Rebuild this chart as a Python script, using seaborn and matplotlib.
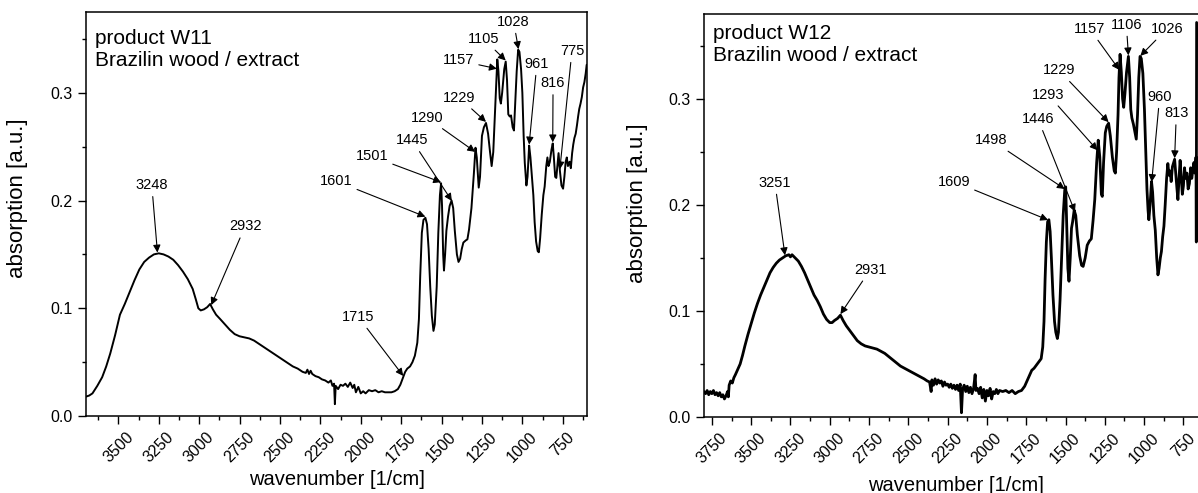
import numpy as np
import pandas as pd
import matplotlib
matplotlib.use("Agg")
import matplotlib.pyplot as plt
import seaborn as sns
from matplotlib.ticker import MultipleLocator, FormatStrFormatter

# ---------------- data: W11 spectrum ----------------
w11_wn = [3700, 3680, 3660, 3630, 3600, 3575, 3550, 3520, 3490, 3460, 3430, 3400, 3370, 3340,
          3310, 3280, 3250, 3220, 3190, 3160, 3130, 3100, 3070, 3040, 3020, 3005, 2990, 2970,
          2950, 2932, 2915, 2895, 2870, 2840, 2810, 2780, 2750, 2720, 2690, 2660, 2630, 2600,
          2570, 2540, 2510, 2480, 2450, 2420, 2390, 2360, 2340, 2330, 2320, 2310, 2300, 2280,
          2260, 2240, 2220, 2200, 2185, 2175, 2165, 2160, 2155, 2140, 2125, 2110, 2095, 2080,
          2065, 2050, 2040, 2030, 2015, 2000, 1985, 1970, 1950, 1930, 1910, 1890, 1870, 1850,
          1830, 1810, 1790, 1770, 1755, 1740, 1725, 1712, 1695, 1680, 1665, 1650, 1640, 1632,
          1622, 1612, 1600, 1590, 1580, 1570, 1560, 1550, 1542, 1530, 1520, 1510, 1503, 1497,
          1490, 1485, 1478, 1470, 1460, 1450, 1438, 1428, 1418, 1405, 1395, 1385, 1375, 1365,
          1350, 1340, 1330, 1315, 1300, 1290, 1282, 1270, 1262, 1250, 1238, 1225, 1212, 1200,
          1190, 1180, 1170, 1160, 1155, 1148, 1140, 1133, 1125, 1112, 1103, 1095, 1087, 1078,
          1070, 1060, 1052, 1044, 1035, 1026, 1018, 1008, 1000, 992, 985, 975, 968, 958, 950,
          942, 932, 924, 915, 905, 898, 890, 880, 870, 862, 852, 845, 838, 830, 820, 812, 805,
          797, 790, 783, 776, 768, 758, 748, 740, 732, 725, 718, 708, 700, 692, 685, 678, 670,
          662, 655, 648, 640, 632, 624, 616, 608, 602]
w11_abs = [0.018, 0.019, 0.021, 0.028, 0.036, 0.046, 0.058, 0.075, 0.094, 0.104, 0.115, 0.126,
           0.136, 0.143, 0.147, 0.150, 0.151, 0.150, 0.148, 0.145, 0.140, 0.134, 0.127, 0.118,
           0.108, 0.100, 0.098, 0.099, 0.101, 0.104, 0.099, 0.094, 0.090, 0.085, 0.080, 0.076,
           0.074, 0.073, 0.072, 0.070, 0.067, 0.064, 0.061, 0.058, 0.055, 0.052, 0.049, 0.046,
           0.044, 0.041, 0.040, 0.043, 0.039, 0.042, 0.039, 0.037, 0.036, 0.034, 0.033, 0.031,
           0.033, 0.028, 0.030, 0.011, 0.028, 0.025, 0.029, 0.028, 0.030, 0.027, 0.031, 0.026,
           0.029, 0.022, 0.027, 0.021, 0.023, 0.021, 0.024, 0.023, 0.024, 0.022, 0.023, 0.022,
           0.022, 0.022, 0.023, 0.025, 0.029, 0.035, 0.041, 0.044, 0.046, 0.050, 0.056, 0.068,
           0.090, 0.130, 0.170, 0.182, 0.184, 0.178, 0.155, 0.120, 0.093, 0.079, 0.085, 0.120,
           0.170, 0.205, 0.216, 0.195, 0.150, 0.135, 0.150, 0.172, 0.185, 0.195, 0.200, 0.193,
           0.172, 0.150, 0.143, 0.146, 0.155, 0.161, 0.163, 0.164, 0.173, 0.193, 0.225, 0.249,
           0.240, 0.212, 0.222, 0.260, 0.268, 0.272, 0.262, 0.245, 0.232, 0.245, 0.280, 0.315,
           0.331, 0.320, 0.295, 0.290, 0.300, 0.322, 0.329, 0.312, 0.280, 0.278, 0.279, 0.268,
           0.265, 0.290, 0.320, 0.340, 0.338, 0.322, 0.300, 0.260, 0.235, 0.214, 0.222, 0.251,
           0.240, 0.225, 0.205, 0.180, 0.162, 0.153, 0.152, 0.165, 0.187, 0.205, 0.213, 0.232,
           0.240, 0.232, 0.236, 0.247, 0.253, 0.240, 0.222, 0.221, 0.232, 0.244, 0.228, 0.214,
           0.211, 0.222, 0.236, 0.240, 0.232, 0.236, 0.230, 0.244, 0.252, 0.258, 0.262, 0.270,
           0.278, 0.285, 0.290, 0.296, 0.305, 0.310, 0.318, 0.326]

# ---------------- data: W12 spectrum ----------------
w12_wn = [3800, 3790, 3780, 3770, 3760, 3750, 3740, 3730, 3720, 3710, 3700, 3690, 3680, 3670,
          3660, 3650, 3645, 3640, 3630, 3620, 3610, 3600, 3585, 3570, 3555, 3540, 3520, 3500,
          3480, 3460, 3440, 3420, 3400, 3380, 3360, 3340, 3320, 3300, 3280, 3260, 3250, 3240,
          3220, 3200, 3180, 3160, 3140, 3120, 3100, 3080, 3060, 3040, 3020, 3000, 2985, 2970,
          2950, 2932, 2915, 2895, 2875, 2850, 2825, 2800, 2775, 2750, 2725, 2700, 2675, 2650,
          2625, 2600, 2575, 2550, 2525, 2500, 2475, 2450, 2425, 2400, 2380, 2365, 2355, 2350,
          2340, 2330, 2320, 2310, 2300, 2290, 2280, 2270, 2260, 2250, 2240, 2230, 2220, 2210,
          2200, 2190, 2180, 2170, 2162, 2155, 2145, 2135, 2125, 2115, 2105, 2095, 2085, 2075,
          2070, 2060, 2050, 2040, 2030, 2020, 2010, 2000, 1990, 1980, 1970, 1960, 1950, 1940,
          1930, 1920, 1900, 1880, 1860, 1840, 1820, 1800, 1780, 1760, 1745, 1730, 1715, 1700,
          1685, 1670, 1655, 1645, 1637, 1630, 1622, 1614, 1606, 1598, 1590, 1580, 1570, 1562,
          1552, 1545, 1535, 1525, 1515, 1505, 1499, 1492, 1485, 1478, 1470, 1462, 1455, 1445,
          1435, 1425, 1410, 1398, 1388, 1375, 1362, 1348, 1336, 1325, 1314, 1302, 1292, 1282,
          1272, 1266, 1258, 1247, 1238, 1226, 1215, 1202, 1190, 1183, 1175, 1166, 1160, 1153,
          1145, 1137, 1130, 1122, 1112, 1100, 1092, 1085, 1078, 1068, 1058, 1050, 1042, 1034,
          1026, 1018, 1008, 998, 990, 982, 975, 970, 962, 953, 946, 938, 929, 920, 912, 905,
          897, 890, 882, 874, 866, 857, 849, 842, 835, 828, 820, 812, 806, 798, 791, 785, 778,
          771, 764, 757, 750, 743, 736, 728, 720, 712, 704, 697, 690, 683, 676, 670, 668, 666]
w12_abs = [0.024, 0.022, 0.025, 0.021, 0.024, 0.022, 0.025, 0.021, 0.023, 0.020, 0.023, 0.019,
           0.021, 0.017, 0.020, 0.024, 0.019, 0.030, 0.034, 0.032, 0.037, 0.040, 0.045, 0.050,
           0.058, 0.067, 0.078, 0.088, 0.098, 0.107, 0.115, 0.122, 0.129, 0.136, 0.141, 0.145,
           0.148, 0.150, 0.152, 0.153, 0.151, 0.153, 0.150, 0.147, 0.142, 0.136, 0.129, 0.122,
           0.115, 0.110, 0.104, 0.097, 0.092, 0.089, 0.089, 0.091, 0.093, 0.096, 0.091, 0.086,
           0.082, 0.077, 0.072, 0.069, 0.067, 0.066, 0.065, 0.064, 0.062, 0.060, 0.057, 0.054,
           0.051, 0.048, 0.046, 0.044, 0.042, 0.040, 0.038, 0.036, 0.034, 0.033, 0.024, 0.035,
           0.030, 0.036, 0.031, 0.035, 0.032, 0.034, 0.029, 0.033, 0.030, 0.031, 0.028, 0.031,
           0.027, 0.030, 0.026, 0.030, 0.025, 0.031, 0.004, 0.026, 0.030, 0.024, 0.029, 0.023,
           0.028, 0.022, 0.027, 0.040, 0.025, 0.027, 0.022, 0.028, 0.018, 0.026, 0.015, 0.025,
           0.020, 0.027, 0.017, 0.024, 0.022, 0.026, 0.022, 0.025, 0.024, 0.025, 0.023, 0.025,
           0.022, 0.024, 0.025, 0.029, 0.034, 0.039, 0.044, 0.046, 0.049, 0.052, 0.055, 0.066,
           0.090, 0.130, 0.165, 0.184, 0.186, 0.175, 0.150, 0.115, 0.090, 0.080, 0.074, 0.080,
           0.110, 0.150, 0.190, 0.214, 0.217, 0.180, 0.140, 0.128, 0.150, 0.178, 0.184, 0.195,
           0.190, 0.172, 0.152, 0.143, 0.142, 0.150, 0.162, 0.166, 0.168, 0.185, 0.205, 0.240,
           0.261, 0.245, 0.210, 0.208, 0.240, 0.268, 0.274, 0.277, 0.265, 0.245, 0.232, 0.230,
           0.250, 0.285, 0.320, 0.342, 0.325, 0.300, 0.292, 0.305, 0.325, 0.340, 0.320, 0.290,
           0.282, 0.276, 0.268, 0.262, 0.285, 0.320, 0.340, 0.338, 0.324, 0.290, 0.252, 0.215,
           0.195, 0.186, 0.200, 0.222, 0.212, 0.190, 0.176, 0.150, 0.134, 0.140, 0.150, 0.156,
           0.170, 0.180, 0.200, 0.225, 0.239, 0.228, 0.232, 0.222, 0.236, 0.240, 0.243, 0.228,
           0.215, 0.205, 0.225, 0.242, 0.226, 0.210, 0.218, 0.235, 0.225, 0.230, 0.215, 0.220,
           0.235, 0.225, 0.233, 0.240, 0.230, 0.245, 0.165, 0.372]

# ---------------- peak annotations ----------------
w11_labels = ["3248", "2932", "1715", "1601", "1501", "1445", "1290", "1229", "1157",
              "1105", "1028", "961", "816", "775"]
w11_tip_wn = [3258, 2925, 1737, 1600, 1503, 1436, 1292, 1225, 1158, 1103, 1024, 958, 812, 768]
# label placement (layout)
w11_text_pos = [(3293, 0.2145), (2716, 0.176), (2015, 0.092), (2152, 0.218), (1931, 0.241),
                (1683, 0.256), (1591, 0.277), (1390, 0.2955), (1395, 0.330), (1240, 0.350),
                (1054, 0.366), (910, 0.327), (810, 0.309), (693, 0.339)]

w12_labels = ["3251", "2931", "1609", "1498", "1446", "1293", "1229", "1157", "1106",
              "1026", "960", "813"]
w12_tip_wn = [3285, 2932, 1611, 1505, 1440, 1297, 1226, 1158, 1100, 1024, 952, 806]
w12_text_pos = [(3349, 0.221), (2742, 0.139), (2211, 0.222), (1971, 0.261), (1675, 0.281),
                (1611, 0.304), (1543, 0.327), (1346, 0.366), (1113, 0.370), (855, 0.366),
                (901, 0.302), (795, 0.2865)]

titles = ["product W11\nBrazilin wood / extract", "product W12\nBrazilin wood / extract"]

# ---------------- styling ----------------
sns.set_theme(style="ticks")
plt.rcParams['font.family'] = ['Liberation Sans', 'DejaVu Sans']
plt.rcParams['axes.edgecolor'] = 'black'
plt.rcParams['xtick.color'] = 'black'
plt.rcParams['ytick.color'] = 'black'
plt.rcParams['text.color'] = 'black'
plt.rcParams['axes.labelcolor'] = 'black'

fig = plt.figure(figsize=(11.98, 4.93), dpi=100)
W, H = 1198, 493
ax1 = fig.add_axes([86 / W, 1 - 416 / H, 501 / W, 404 / H])
ax2 = fig.add_axes([704 / W, 1 - 417 / H, 503 / W, 403 / H])

df11 = pd.DataFrame({"wn": w11_wn, "abs": w11_abs})
df12 = pd.DataFrame({"wn": w12_wn, "abs": w12_abs})

sns.lineplot(data=df11, x="wn", y="abs", ax=ax1, color="black", lw=1.4,
             sort=False, estimator=None)
sns.lineplot(data=df12, x="wn", y="abs", ax=ax2, color="black", lw=2.0,
             sort=False, estimator=None)

ax1.set_xlim(3700, 600)
ax1.set_ylim(0, 0.375)
ax2.set_xlim(3800, 600)
ax2.set_ylim(0, 0.380)


def annotate(ax, df, labels, tips, texts):
    xs = df["wn"].values[::-1]
    ys = df["abs"].values[::-1]
    for lab, tw, (tx, ty) in zip(labels, tips, texts):
        tv = float(np.interp(tw, xs, ys)) + 0.001
        ax.annotate(lab, xy=(tw, tv), xytext=(tx, ty), ha="center", va="center",
                    fontsize=10.5,
                    arrowprops=dict(arrowstyle="-|>", color="black", lw=0.8,
                                    mutation_scale=11, shrinkA=1, shrinkB=0))


annotate(ax1, df11, w11_labels, w11_tip_wn, w11_text_pos)
annotate(ax2, df12, w12_labels, w12_tip_wn, w12_text_pos)

for ax, title, ty, lx, ly, xl in [(ax1, titles[0], 0.958, -0.116, 0.54, -0.133),
                                  (ax2, titles[1], 0.975, -0.111, 0.53, -0.146)]:
    ax.text(0.017, ty, title, transform=ax.transAxes, ha="left", va="top",
            fontsize=15, linespacing=1.2)
    ax.xaxis.set_major_locator(MultipleLocator(250))
    ax.xaxis.set_minor_locator(MultipleLocator(125))
    ax.yaxis.set_major_locator(MultipleLocator(0.1))
    ax.yaxis.set_minor_locator(MultipleLocator(0.05))
    ax.yaxis.set_major_formatter(FormatStrFormatter("%.1f"))
    ax.tick_params(axis="both", which="major", direction="out", length=5.5, width=1.0,
                   labelsize=11.5)
    ax.tick_params(axis="both", which="minor", direction="out", length=3, width=1.0)
    ax.tick_params(axis="x", which="major", pad=4)
    ax.tick_params(axis="y", which="major", pad=4)
    for s in ax.spines.values():
        s.set_linewidth(1.1)
        s.set_visible(True)
    ax.set_xlabel("wavenumber [1/cm]", fontsize=14.5)
    ax.set_ylabel("absorption [a.u.]", fontsize=16)
    ax.yaxis.set_label_coords(lx, ly)
    ax.xaxis.set_label_coords(0.5, xl)
    ax.grid(False)

ax1.set_xticks([t for t in range(750, 3501, 250)])
ax1.set_xticks(np.arange(625, 3700, 125), minor=True)
ax2.set_xticks([t for t in range(750, 3751, 250)])
ax2.set_xticks(np.arange(625, 3800, 125), minor=True)
for ax in (ax1, ax2):
    ax.set_xticklabels([str(int(t)) for t in ax.get_xticks()], rotation=45)

fig.savefig("out.png", dpi=100)
